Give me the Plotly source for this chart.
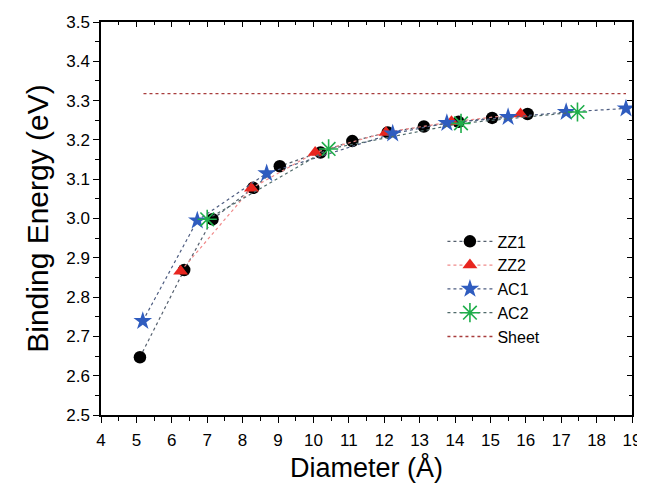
import plotly.graph_objects as go

# ---- data ----
zz1_x = [5.10, 6.35, 7.15, 8.30, 9.05, 10.20, 11.10, 12.10, 13.12, 14.10, 15.05, 16.05]
zz1_y = [2.647, 2.869, 2.998, 3.078, 3.133, 3.168, 3.197, 3.219, 3.234, 3.246, 3.256, 3.266]

zz2_x = [6.25, 8.25, 10.05, 12.05, 13.90, 15.85]
zz2_y = [2.866, 3.077, 3.168, 3.219, 3.246, 3.266]

ac1_x = [5.18, 6.72, 8.68, 12.24, 13.77, 15.50, 17.14, 18.83]
ac1_y = [2.739, 2.995, 3.115, 3.216, 3.243, 3.258, 3.271, 3.280]

ac2_x = [7.00, 10.43, 14.17, 17.46]
ac2_y = [2.998, 3.177, 3.242, 3.271]

sheet_x = [5.20, 18.83]
sheet_y = [3.318, 3.318]

x_ticks = list(range(4, 20))
y_ticks = [2.5, 2.6, 2.7, 2.8, 2.9, 3.0, 3.1, 3.2, 3.3, 3.4, 3.5]

FONT = "Liberation Sans, Arial, sans-serif"

fig = go.Figure()

fig.add_trace(go.Scatter(
    x=zz1_x, y=zz1_y, name="ZZ1", mode="lines+markers",
    line=dict(color="#55606e", width=1.2, dash="dot"),
    marker=dict(symbol="circle", size=12.5, color="black")))
fig.add_trace(go.Scatter(
    x=zz2_x, y=zz2_y, name="ZZ2", mode="lines+markers",
    line=dict(color="#f08a8a", width=1.2, dash="dot"),
    marker=dict(symbol="triangle-up", size=13, color="#e8261f")))
fig.add_trace(go.Scatter(
    x=ac1_x, y=ac1_y, name="AC1", mode="lines+markers",
    line=dict(color="#4d5c80", width=1.2, dash="dot"),
    marker=dict(symbol="star", size=14, color="#2f5cbf")))
fig.add_trace(go.Scatter(
    x=ac2_x, y=ac2_y, name="AC2", mode="lines+markers",
    line=dict(color="#4f6a6a", width=1.2, dash="dot"),
    marker=dict(symbol="asterisk-open", size=16, color="#1fae4a",
                line=dict(color="#1fae4a", width=1.6))))
fig.add_trace(go.Scatter(
    x=sheet_x, y=sheet_y, name="Sheet", mode="lines",
    line=dict(color="#a83c3c", width=1.3, dash="dot")))

# dummy trace to activate mirrored top/right axes
fig.add_trace(go.Scatter(x=[None], y=[None], xaxis="x2", yaxis="y2",
                         showlegend=False, hoverinfo="skip"))

axis_common = dict(showgrid=False, zeroline=False, linecolor="black", linewidth=1.5,
                   tickcolor="black", tickwidth=1.2, automargin=False)

# page body has an 8px default margin, so the figure is sized 8px smaller
fig.update_layout(
    width=637, height=475,
    margin=dict(l=93, r=13, t=14, b=68),
    paper_bgcolor="white", plot_bgcolor="white",
    font=dict(family=FONT, color="black"),
    showlegend=True,
    legend=dict(x=0.643, y=0.485, xanchor="left", yanchor="top",
                bgcolor="rgba(0,0,0,0)", borderwidth=0,
                font=dict(size=16, family=FONT), itemwidth=45,
                tracegroupgap=0),
    xaxis=dict(range=[4, 19], tickmode="array", tickvals=x_ticks,
               ticktext=[str(v) for v in x_ticks],
               ticks="outside", ticklen=6, ticklabelstandoff=3,
               minor=dict(dtick=0.5, tick0=4, ticks="outside", ticklen=4,
                          tickcolor="black", tickwidth=1.2),
               tickfont=dict(size=17),
               title=dict(text="Diameter (Å)", font=dict(size=27), standoff=12),
               **axis_common),
    yaxis=dict(range=[2.5, 3.5], tickmode="array", tickvals=y_ticks,
               ticktext=[f"{v:.1f}" for v in y_ticks],
               ticks="outside", ticklen=6,
               minor=dict(dtick=0.05, tick0=2.5, ticks="outside", ticklen=4,
                          tickcolor="black", tickwidth=1.2),
               tickfont=dict(size=17),
               title=dict(text="Binding Energy (eV)", font=dict(size=30), standoff=9),
               **axis_common),
    xaxis2=dict(range=[4, 19], overlaying="x", side="top", anchor="y",
                tickvals=x_ticks, showticklabels=False, ticks="inside", ticklen=5,
                minor=dict(dtick=0.5, tick0=4, ticks="inside", ticklen=3,
                           tickcolor="black", tickwidth=1),
                **axis_common),
    yaxis2=dict(range=[2.5, 3.5], overlaying="y", side="right", anchor="x",
                tickvals=y_ticks, showticklabels=False, ticks="inside", ticklen=5,
                minor=dict(dtick=0.05, tick0=2.5, ticks="inside", ticklen=3,
                           tickcolor="black", tickwidth=1),
                **axis_common),
)

fig.write_html("out.html")
